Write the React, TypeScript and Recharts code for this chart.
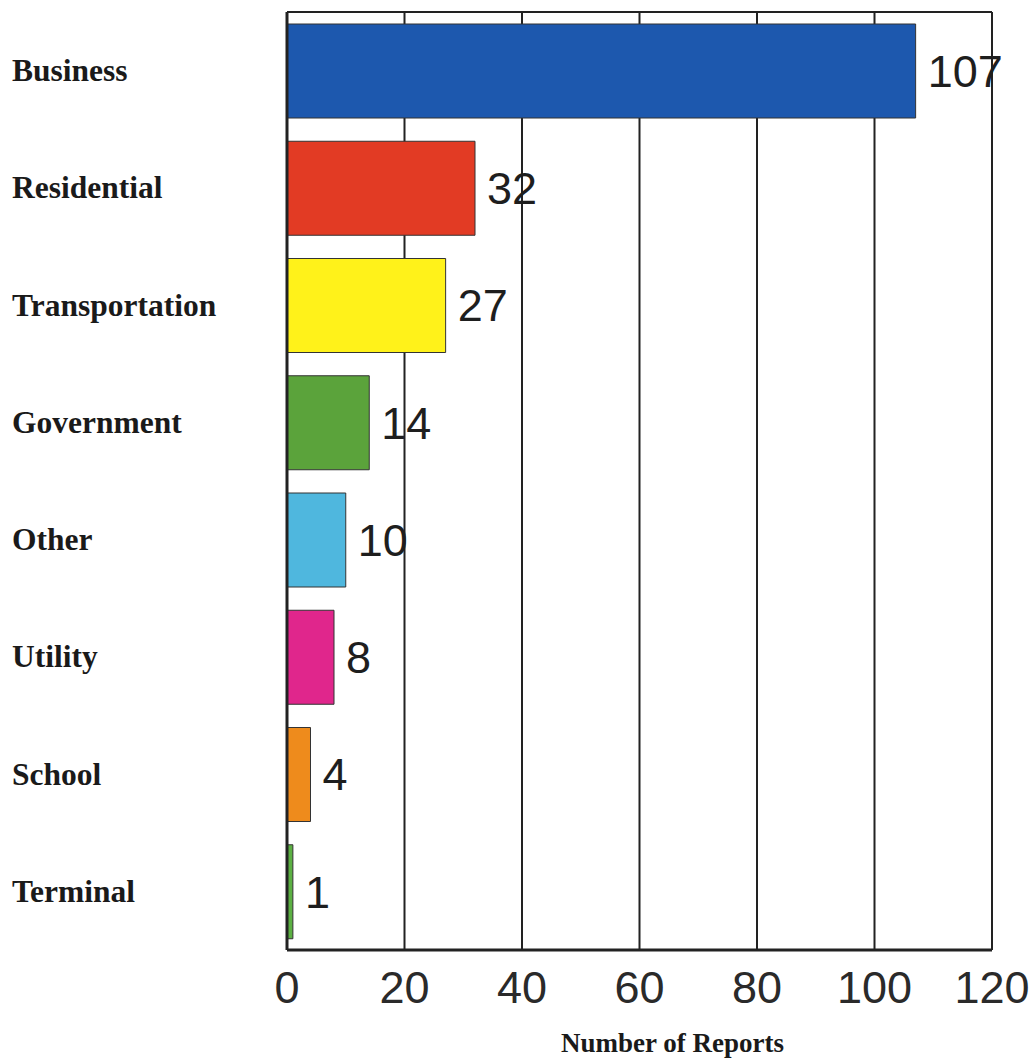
import React from 'react';
import { BarChart, Bar, XAxis, YAxis, CartesianGrid, Cell, LabelList } from 'recharts';

const categories = ['Business', 'Residential', 'Transportation', 'Government', 'Other', 'Utility', 'School', 'Terminal'];
const reports = [107, 32, 27, 14, 10, 8, 4, 1];
const barColors = ['#1d58ae', '#e23b24', '#fff21a', '#5ba33b', '#4fb7de', '#e0268c', '#ee8b1c', '#5cb043'];
const xTicks = [0, 20, 40, 60, 80, 100, 120];
const axisTitle = 'Number of Reports';

const data = categories.map((name, i) => ({ name, value: reports[i] }));

const XTick = (props: any) => {
  const { x, y, payload } = props;
  return (
    <text x={x} y={y + 45} textAnchor="middle" fontFamily="'Liberation Sans', Arial, sans-serif" fontSize={45} fill="#2a2a2a">
      {payload.value}
    </text>
  );
};

const YTick = (props: any) => {
  const { y, payload } = props;
  return (
    <text x={12} y={y} dominantBaseline="central" textAnchor="start" fontFamily="'Liberation Serif', 'Times New Roman', serif" fontWeight="bold" fontSize={31.5} fill="#1a1a1a">
      {payload.value}
    </text>
  );
};

const AxisTitle = (props: any) => {
  const vb = props.viewBox || {};
  return (
    <text x={vb.x + vb.width / 2 + 33} y={vb.y + 102} textAnchor="middle" fontFamily="'Liberation Serif', 'Times New Roman', serif" fontWeight="bold" fontSize={27} fill="#1a1a1a">
      {axisTitle}
    </text>
  );
};

export default function App() {
  return (
    <div style={{ position: 'absolute', left: 0, top: 0, width: 1034, height: 1059, background: '#fff', overflow: 'hidden' }}>
      <BarChart
        width={1034}
        height={1059}
        data={data}
        layout="vertical"
        margin={{ top: 11, right: 42, left: 0, bottom: 0 }}
        barCategoryGap="20%"
      >
        <CartesianGrid horizontal={false} vertical={true} stroke="#222" strokeWidth={2} />
        <XAxis
          type="number"
          domain={[0, 120]}
          ticks={xTicks}
          interval={0}
          height={109}
          tickLine={false}
          axisLine={{ stroke: '#222', strokeWidth: 3 }}
          tick={<XTick />}
          label={<AxisTitle />}
        />
        <XAxis
          xAxisId="top"
          orientation="top"
          type="number"
          domain={[0, 120]}
          height={1}
          tick={false}
          tickLine={false}
          axisLine={{ stroke: '#222', strokeWidth: 2 }}
        />
        <YAxis
          type="category"
          dataKey="name"
          width={287}
          tickLine={false}
          interval={0}
          axisLine={{ stroke: '#222', strokeWidth: 3 }}
          tick={<YTick />}
        />
        <Bar dataKey="value" isAnimationActive={false} stroke="#333" strokeWidth={1} barSize={94}>
          {data.map((d, i) => (
            <Cell key={d.name} fill={barColors[i]} />
          ))}
          <LabelList
            dataKey="value"
            position="right"
            offset={12}
            fontSize={45}
            fontFamily="'Liberation Sans', Arial, sans-serif"
            fill="#1e1e1e"
          />
        </Bar>
      </BarChart>
    </div>
  );
}
